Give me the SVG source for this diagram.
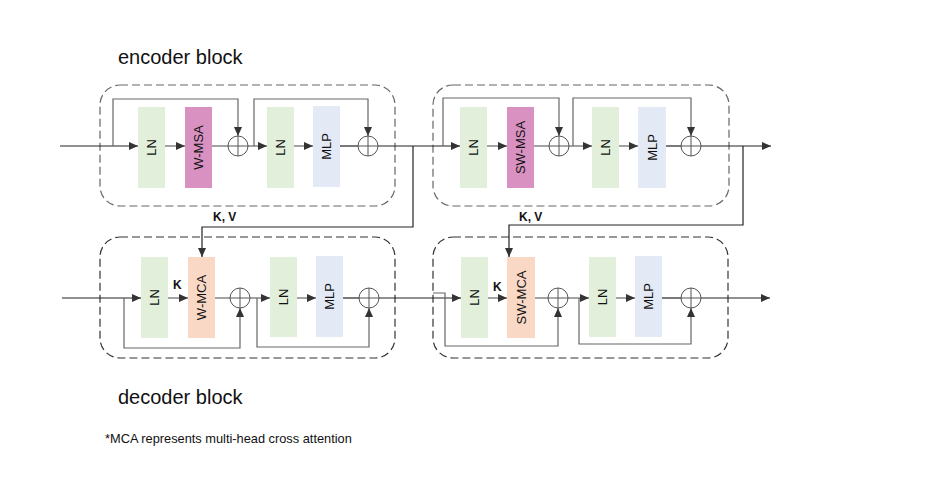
<svg xmlns="http://www.w3.org/2000/svg" width="936" height="502" viewBox="0 0 936 502">
<style>
.blk{fill:none;stroke:#666;stroke-width:1.2;stroke-dasharray:8 4}
.blkd{fill:none;stroke:#333;stroke-width:1.2;stroke-dasharray:8 4}
.ln{fill:#e2efda}
.msa{fill:#d891c1}
.mca{fill:#f9d8c6}
.mlp{fill:#e4eaf5}
.lbl{font-family:"Liberation Sans",Arial,sans-serif;font-size:13px;fill:#111;text-anchor:middle;dominant-baseline:central}
.c{fill:none;stroke:#555;stroke-width:1}
.w{fill:none;stroke:#666;stroke-width:1.2}
.m{fill:none;stroke:#222;stroke-width:1.2}
.t{font-family:"Liberation Sans",Arial,sans-serif;fill:#111}
.b{font-family:"Liberation Sans",Arial,sans-serif;font-size:12px;font-weight:bold;fill:#111}
</style>
<defs>
<marker id="ar" markerUnits="userSpaceOnUse" markerWidth="10" markerHeight="10" refX="9" refY="5" orient="auto">
<path d="M0,1 L9,5 L0,9 Z" fill="#333"/>
</marker>
</defs>
<rect width="936" height="502" fill="#fff"/>

<text class="t" x="118" y="64" font-size="20">encoder block</text>
<text class="t" x="118" y="404" font-size="20">decoder block</text>
<text class="t" x="105" y="443" font-size="12.8">*MCA represents multi-head cross attention</text>

<g id="encoder1">
<rect class="blk" x="100" y="85" width="295" height="121" rx="20"/>
</g>
<g id="encoder2">
<rect class="blk" x="433" y="85" width="296" height="121" rx="20"/>
</g>
<g id="decoder1">
<rect class="blkd" x="100" y="237" width="295" height="121" rx="20"/>
</g>
<g id="decoder2">
<rect class="blkd" x="433" y="237" width="295" height="121" rx="20"/>
</g>

<g id="connectors">
<!-- encoder 1 -->
<path class="m" d="M60,146 H138" marker-end="url(#ar)"/>
<path class="w" d="M165,146 H185" marker-end="url(#ar)"/>
<path class="w" d="M212,146 H228"/>
<path class="w" d="M248,146 H267" marker-end="url(#ar)"/>
<path class="w" d="M113,146 V99 H238 V136" marker-end="url(#ar)"/>
<path class="w" d="M254,146 V99 H368 V136" marker-end="url(#ar)"/>
<path class="w" d="M294,146 H313" marker-end="url(#ar)"/>
<path class="m" d="M340,146 H358"/>
<path class="m" d="M378,146 H460" marker-end="url(#ar)"/>
<path class="m" d="M413,146 V227 H202 V257" marker-end="url(#ar)"/>
<!-- encoder 2 -->
<path class="w" d="M443,146 V98 H559 V136" marker-end="url(#ar)"/>
<path class="w" d="M487,146 H507" marker-end="url(#ar)"/>
<path class="w" d="M534,146 H549"/>
<path class="w" d="M569,146 H592" marker-end="url(#ar)"/>
<path class="w" d="M573,146 V98 H691 V136" marker-end="url(#ar)"/>
<path class="w" d="M619,146 H638" marker-end="url(#ar)"/>
<path class="m" d="M666,146 H681"/>
<path class="m" d="M701,146 H771" marker-end="url(#ar)"/>
<path class="m" d="M743,146 V225 H509 V257" marker-end="url(#ar)"/>
<!-- decoder 1 -->
<path class="m" d="M62,298 H141" marker-end="url(#ar)"/>
<path class="w" d="M168,298 H188" marker-end="url(#ar)"/>
<path class="w" d="M215,298 H230"/>
<path class="w" d="M124,298 V348 H240 V308" marker-end="url(#ar)"/>
<path class="w" d="M250,298 H270" marker-end="url(#ar)"/>
<path class="w" d="M257,298 V347 H369 V308" marker-end="url(#ar)"/>
<path class="w" d="M297,298 H316" marker-end="url(#ar)"/>
<path class="m" d="M343,298 H359"/>
<path class="m" d="M379,298 H461" marker-end="url(#ar)"/>
<!-- decoder 2 -->
<path class="w" d="M433,293 H445 V346 H558 V308" marker-end="url(#ar)"/>
<path class="w" d="M488,298 H507" marker-end="url(#ar)"/>
<path class="w" d="M535,298 H548"/>
<path class="w" d="M568,298 H589" marker-end="url(#ar)"/>
<path class="w" d="M579,298 V344 H691 V308" marker-end="url(#ar)"/>
<path class="w" d="M616,298 H635" marker-end="url(#ar)"/>
<path class="m" d="M662,298 H681"/>
<path class="m" d="M701,298 H770" marker-end="url(#ar)"/>
</g>

<g id="e1-ln1"><rect class="ln" x="138" y="107" width="27" height="81"/><text class="lbl" transform="translate(151.5,147.5) rotate(-90)">LN</text></g>
<g id="e1-wmsa"><rect class="msa" x="185" y="107" width="27" height="81"/><text class="lbl" transform="translate(198.5,147.5) rotate(-90)">W-MSA</text></g>
<g id="e1-add1"><circle class="c" cx="238" cy="146" r="10"/><path class="c" d="M228,146 H248 M238,136 V156"/></g>
<g id="e1-ln2"><rect class="ln" x="267" y="107" width="27" height="81"/><text class="lbl" transform="translate(280.5,147.5) rotate(-90)">LN</text></g>
<g id="e1-mlp"><rect class="mlp" x="313" y="106" width="27" height="81"/><text class="lbl" transform="translate(326.5,146.5) rotate(-90)">MLP</text></g>
<g id="e1-add2"><circle class="c" cx="368" cy="146" r="10"/><path class="c" d="M358,146 H378 M368,136 V156"/></g>

<g id="e2-ln1"><rect class="ln" x="460" y="107" width="27" height="81"/><text class="lbl" transform="translate(473.5,147.5) rotate(-90)">LN</text></g>
<g id="e2-swmsa"><rect class="msa" x="507" y="107" width="27" height="81"/><text class="lbl" transform="translate(520.5,147.5) rotate(-90)">SW-MSA</text></g>
<g id="e2-add1"><circle class="c" cx="559" cy="146" r="10"/><path class="c" d="M549,146 H569 M559,136 V156"/></g>
<g id="e2-ln2"><rect class="ln" x="592" y="107" width="27" height="81"/><text class="lbl" transform="translate(605.5,147.5) rotate(-90)">LN</text></g>
<g id="e2-mlp"><rect class="mlp" x="638" y="107" width="28" height="81"/><text class="lbl" transform="translate(652,147.5) rotate(-90)">MLP</text></g>
<g id="e2-add2"><circle class="c" cx="691" cy="146" r="10"/><path class="c" d="M681,146 H701 M691,136 V156"/></g>

<g id="d1-ln1"><rect class="ln" x="141" y="257" width="27" height="81"/><text class="lbl" transform="translate(154.5,297.5) rotate(-90)">LN</text></g>
<g id="d1-wmca"><rect class="mca" x="188" y="257" width="27" height="81"/><text class="lbl" transform="translate(201.5,297.5) rotate(-90)">W-MCA</text></g>
<g id="d1-add1"><circle class="c" cx="240" cy="298" r="10"/><path class="c" d="M230,298 H250 M240,288 V308"/></g>
<g id="d1-ln2"><rect class="ln" x="270" y="257" width="27" height="80"/><text class="lbl" transform="translate(283.5,297) rotate(-90)">LN</text></g>
<g id="d1-mlp"><rect class="mlp" x="316" y="256" width="27" height="81"/><text class="lbl" transform="translate(329.5,296.5) rotate(-90)">MLP</text></g>
<g id="d1-add2"><circle class="c" cx="369" cy="298" r="10"/><path class="c" d="M359,298 H379 M369,288 V308"/></g>

<g id="d2-ln1"><rect class="ln" x="461" y="257" width="27" height="81"/><text class="lbl" transform="translate(474.5,297.5) rotate(-90)">LN</text></g>
<g id="d2-swmca"><rect class="mca" x="507" y="257" width="28" height="81"/><text class="lbl" transform="translate(521,297.5) rotate(-90)">SW-MCA</text></g>
<g id="d2-add1"><circle class="c" cx="558" cy="298" r="10"/><path class="c" d="M548,298 H568 M558,288 V308"/></g>
<g id="d2-ln2"><rect class="ln" x="589" y="257" width="27" height="80"/><text class="lbl" transform="translate(602.5,297) rotate(-90)">LN</text></g>
<g id="d2-mlp"><rect class="mlp" x="635" y="256" width="27" height="81"/><text class="lbl" transform="translate(648.5,296.5) rotate(-90)">MLP</text></g>
<g id="d2-add2"><circle class="c" cx="691" cy="298" r="10"/><path class="c" d="M681,298 H701 M691,288 V308"/></g>

<text class="b" x="213" y="221">K, V</text>
<text class="b" x="519" y="221">K, V</text>
<text class="b" x="173" y="289">K</text>
<text class="b" x="493" y="291">K</text>
</svg>
